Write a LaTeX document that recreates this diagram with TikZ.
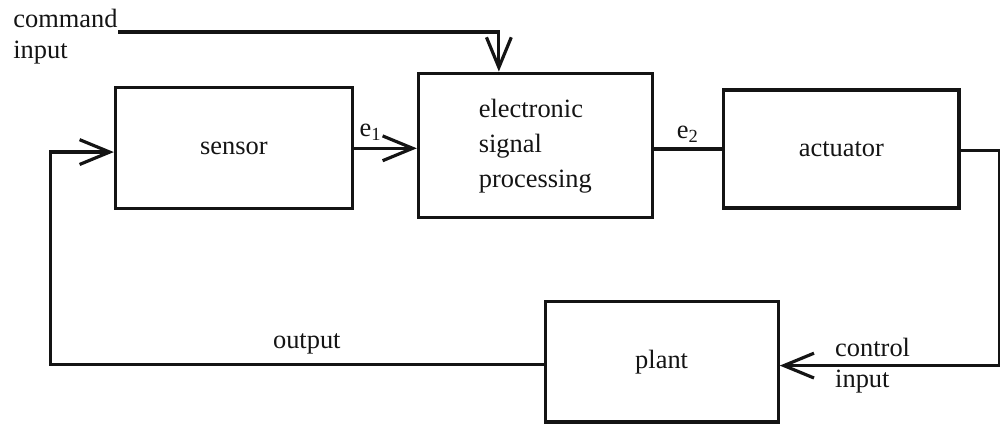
\documentclass[tikz,border=0pt]{standalone}
\usepackage{fontspec}
\setmainfont{Liberation Serif}
\usepackage{xcolor}
\usetikzlibrary{arrows.meta,positioning}
\definecolor{LoopInk}{gray}{0.08}
\tikzset{
  loopfig/.style={font=\normalsize,text=LoopInk},
  block/.style={draw=LoopInk,line width=1.2pt,minimum width=3.12cm,align=center},
  signal/.style={line width=1.2pt,draw=LoopInk},
  feed/.style={signal,-{Straight Barb[length=4mm,width=3.3mm,line width=1.2pt]}},
  tag/.style={inner sep=2pt,align=left},
}

\begin{document}
\begin{tikzpicture}[loopfig]
  \useasboundingbox (0,0) rectangle (13.3,5.6525);

  % blocks of the loop
  \node[block,minimum width=3.15cm,minimum height=1.61cm] (sensor) at (3.11,3.68) {sensor};
  \node[block,minimum width=3.11cm,minimum height=1.92cm] (esp) at (7.12,3.72)
    {\renewcommand{\arraystretch}{1.1}\begin{tabular}{@{}l@{}}electronic\\signal\\processing\end{tabular}};
  \node[block,minimum width=3.13cm,minimum height=1.57cm] (act) at (11.19,3.67) {actuator};
  \node[block,minimum width=3.10cm,minimum height=1.60cm] (plant) at (8.80,0.84) {plant};

  % command input from the upper left
  \coordinate (cmd) at (1.57,5.226);
  \node[tag,anchor=east,inner sep=0pt,yshift=-0.6mm] (cmdtext) at (cmd) {command\\input};
  \draw[feed] (cmd) -| ([xshift=-4.85mm]esp.north);

  \draw[feed] (sensor.east) -- (sensor.east -| esp.west)
    node[pos=0.27,above,inner sep=2.5pt] (eone) {e\textsubscript{1}};
  \draw[signal] (esp.east |- act.west) -- (act.west)
    node[midway,above,inner sep=2pt] (etwo) {e\textsubscript{2}};

  % actuator round to the plant
  \coordinate (turn) at (13.3,3.65);
  \draw[signal] (act.east |- turn) -- (turn);
  \draw[feed] (turn) |- ([yshift=-0.5mm]plant.east);
  \node[tag,inner sep=0pt,right=0.73cm of plant.east,yshift=-0.5mm] (ctrl) {control\\input};

  % output fed back to the sensor
  \coordinate (back) at (0.67,0);
  \draw[feed] ([yshift=-0.4mm]plant.west) -- ([yshift=-0.4mm]plant.west -| back)
    node[pos=0.48,above] (outtext) {output} |- ([yshift=-0.5mm]sensor.west);
\end{tikzpicture}
\end{document}
